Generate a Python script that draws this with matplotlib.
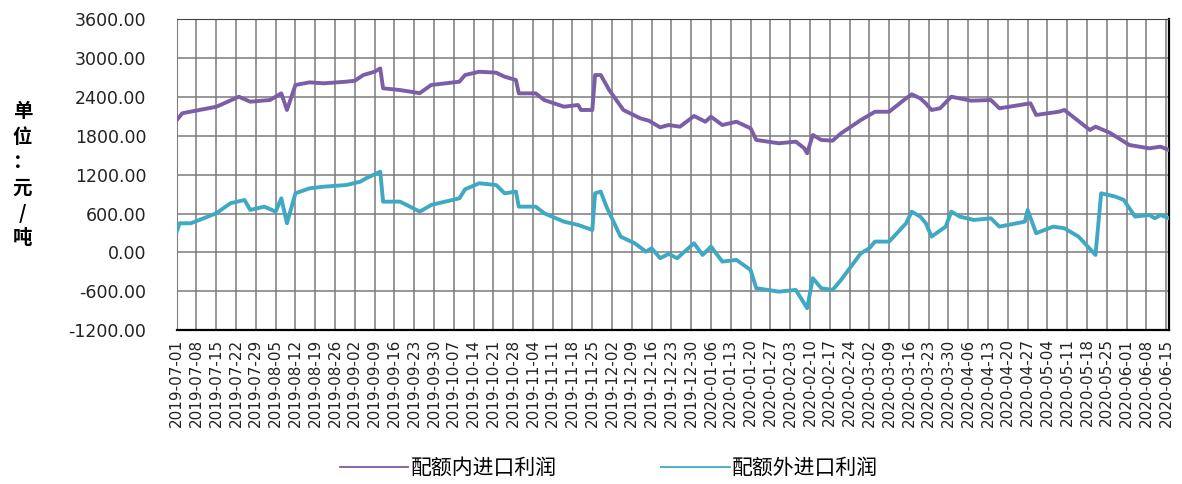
import pandas as pd
import matplotlib.pyplot as plt
from matplotlib.lines import Line2D
from matplotlib.font_manager import FontProperties

# DATA
start = pd.Timestamp('2019-07-01')

# days after 2019-07-01 and profit (yuan / ton) - within quota
day_in = [0, 2, 8, 14, 22, 26, 33, 37, 39, 42, 47, 52, 60, 63, 66, 70, 72, 73, 79, 86,
          90, 100, 102, 107, 113, 116, 120, 121, 127, 130, 137, 142, 143, 147, 148, 150, 153, 158,
          164, 167, 171, 174, 178, 183, 187, 189, 193, 198, 203, 205, 213, 219, 222, 223,
          225, 228, 232, 235, 242, 247, 252, 258, 260, 263, 265, 267, 270, 274, 281, 288,
          291, 302, 304, 312, 314, 323, 325, 330, 337, 344, 348, 351]
profit_in = [2045, 2150, 2200, 2250, 2405, 2328, 2354, 2457, 2200, 2586, 2627, 2612, 2637, 2652,
             2740, 2791, 2843, 2535, 2508, 2460, 2586, 2637, 2740, 2791, 2776, 2714, 2663, 2457,
             2457, 2354, 2251, 2277, 2200, 2200, 2740, 2740, 2508, 2200, 2071, 2035, 1932, 1968,
             1942, 2107, 2019, 2096, 1968, 2019, 1917, 1737, 1686, 1711, 1608, 1531, 1814, 1737,
             1726, 1840, 2045, 2173, 2173, 2380, 2442, 2380, 2300, 2200, 2226, 2405, 2344, 2354,
             2226, 2303, 2123, 2173, 2200, 1891, 1942, 1850, 1659, 1608, 1633, 1582]

# days after 2019-07-01 and profit (yuan / ton) - outside quota
day_out = [0, 1, 5, 8, 14, 19, 24, 26, 31, 35, 37, 39, 42, 47, 52, 60, 65, 67, 72, 73, 79,
           86, 90, 100, 102, 107, 113, 116, 120, 121, 127, 130, 137, 142, 147, 148, 150, 152,
           157, 162, 166, 168, 171, 174, 177, 183, 186, 189, 193, 198, 203, 205, 213, 219,
           223, 225, 228, 232, 235, 242, 245, 247, 252, 258, 260, 263, 265, 267, 272, 274,
           277, 282, 288, 291, 300, 301, 304, 310, 314, 319, 325, 327, 332, 335, 339, 344,
           346, 348, 351]
profit_out = [321, 450, 450, 501, 605, 759, 810, 656, 707, 630, 836, 450, 913, 990, 1015, 1041,
              1093, 1145, 1247, 784, 784, 630, 733, 836, 975, 1068, 1041, 913, 939, 707, 707,
              604, 475, 424, 347, 913, 939, 707, 244, 141, 12, 64, -90, -23, -90, 141, -39, 90,
              -142, -116, -271, -553, -606, -580, -862, -399, -553, -580, -425, -13, 64, 167,
              167, 450, 630, 553, 450, 244, 398, 630, 553, 501, 527, 398, 475, 656, 296, 398,
              373, 244, -39, 913, 862, 810, 553, 578, 527, 578, 527]

label_in = '配额内进口利润'
label_out = '配额外进口利润'
unit_label = ['单', '位', '：', '元', '/', '吨']
y_ticks = [-1200, -600, 0, 600, 1200, 1800, 2400, 3000, 3600]
tick_dates = pd.date_range('2019-07-01', '2020-06-15', freq='7D')

color_in = '#7B5EA8'
color_out = '#3FA9C4'
cjk = ['Noto Sans CJK SC', 'DejaVu Sans']

dates_in = start + pd.to_timedelta(day_in, unit='D')
dates_out = start + pd.to_timedelta(day_out, unit='D')

fig = plt.figure(figsize=(11.82, 4.84), dpi=100)
ax = fig.add_axes([0.1495, 0.318, 0.8395, 0.642])

ax.plot(dates_in, profit_in, color=color_in, lw=2.8, solid_joinstyle='round', zorder=3)
ax.plot(dates_out, profit_out, color=color_out, lw=2.8, solid_joinstyle='round', zorder=3)

ax.set_xlim(start, start + pd.Timedelta(days=351))
ax.set_ylim(-1200, 3600)
ax.set_yticks(y_ticks)
ax.set_yticklabels(['%.2f' % v for v in y_ticks], fontsize=12.5, color='#222222')
ax.set_xticks(tick_dates)
ax.set_xticklabels([d.strftime('%Y-%m-%d') for d in tick_dates], rotation=90,
                   fontsize=11, color='#222222')
ax.tick_params(axis='both', length=0)
ax.tick_params(axis='y', pad=22)
ax.tick_params(axis='x', pad=6)
ax.grid(True, color='#7A7A7A', lw=1.1)
ax.set_axisbelow(True)

ax.spines['left'].set_color('#808080')
ax.spines['top'].set_color('#444444')
ax.spines['bottom'].set_color('black')
ax.spines['bottom'].set_linewidth(1.6)
ax.spines['right'].set_color('black')
ax.spines['right'].set_linewidth(1.6)

# stacked unit label on the left
fig.text(0.019, 0.638, '\n'.join(unit_label), family=cjk, fontsize=14, fontweight='bold',
         ha='center', va='center', multialignment='center', linespacing=1.42)

handles = [Line2D([], [], color=color_in, lw=1.3), Line2D([], [], color=color_out, lw=1.3)]
fig.legend(handles, [label_in, label_out], loc='center', bbox_to_anchor=(0.515, 0.033),
           ncol=2, frameon=False, prop=FontProperties(family=cjk, size=15),
           handlelength=3.3, handletextpad=0.1, columnspacing=5)

fig.savefig('out.png', dpi=100)
